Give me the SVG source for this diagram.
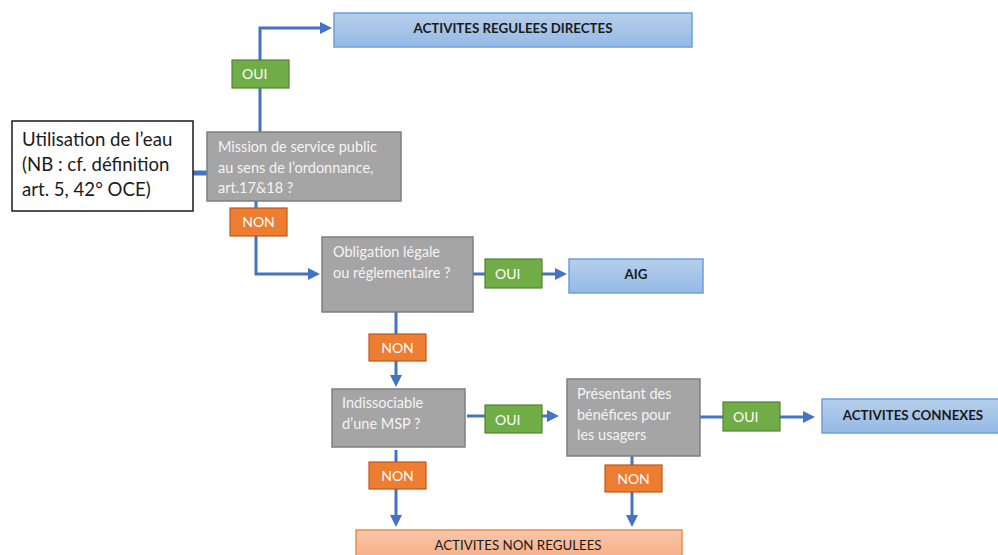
<svg xmlns="http://www.w3.org/2000/svg" width="998" height="555" viewBox="0 0 998 555">
<defs>
<linearGradient id="gBlue" x1="0" y1="0" x2="0" y2="1"><stop offset="0" stop-color="#b7cfeb"/><stop offset="1" stop-color="#94b9e5"/></linearGradient>
<linearGradient id="gSalmon" x1="0" y1="0" x2="0" y2="1"><stop offset="0" stop-color="#f9c7aa"/><stop offset="1" stop-color="#f5ad84"/></linearGradient>
<marker id="ah" markerUnits="userSpaceOnUse" markerWidth="12" markerHeight="12" refX="4" refY="6" orient="auto"><path d="M0,0 L12,6 L0,12 z" fill="#4472c4"/></marker>
</defs>
<style>
.t{font-family:Lato,"Liberation Sans",sans-serif}
.blue{fill:url(#gBlue);stroke:#6e9fd9;stroke-width:1.5}
.salmon{fill:url(#gSalmon);stroke:#ee8a4c;stroke-width:1.5}
.gray{fill:#a5a5a5;stroke:#7f7f7f;stroke-width:1.5}
.green{fill:#70ad47;stroke:#548235;stroke-width:1.2}
.orange{fill:#ed7d31;stroke:#c0561a;stroke-width:1.2}
.lbl{font-size:14px;fill:#ffffff}
.gt{font-size:14.5px;fill:#f4f4f4}
.bt{font-size:13.3px;font-weight:bold;fill:#1a1a1a}
.c{fill:none;stroke:#4472c4;stroke-width:3}
</style>
<rect width="998" height="555" fill="#ffffff"/>
<g id="connectors">
<path class="c" d="M260,132 V28 H324" marker-end="url(#ah)"/>
<path d="M193,173 H207" fill="none" stroke="#4472c4" stroke-width="5"/>
<path class="c" d="M256,201 V274 H312" marker-end="url(#ah)"/>
<path class="c" d="M473,274 H485"/>
<path class="c" d="M542,274 H559" marker-end="url(#ah)"/>
<path class="c" d="M396,312 V379" marker-end="url(#ah)"/>
<path class="c" d="M467,416 H485"/>
<path class="c" d="M542,416 H551" marker-end="url(#ah)"/>
<path class="c" d="M396,450 V519" marker-end="url(#ah)"/>
<path class="c" d="M632,456 V519" marker-end="url(#ah)"/>
<path class="c" d="M700,417 H723"/>
<path class="c" d="M780,417 H807" marker-end="url(#ah)"/>
</g>
<g id="n-directes"><rect class="blue" x="334" y="13" width="358" height="34"/><text class="t bt" x="513" y="33" text-anchor="middle">ACTIVITES REGULEES DIRECTES</text></g>
<g id="l-oui1"><rect class="green" x="232" y="60" width="57" height="28"/><text class="t lbl" x="242" y="79">OUI</text></g>
<g id="n-utilisation"><rect x="12" y="121" width="181" height="90" fill="#ffffff" stroke="#1a1a1a" stroke-width="1.5"/>
<text class="t" font-size="18.6" fill="#1a1a1a"><tspan x="22" y="146">Utilisation de l’eau</tspan><tspan x="22" y="171">(NB : cf. définition</tspan><tspan x="22" y="196">art. 5, 42° OCE)</tspan></text></g>
<g id="n-mission"><rect class="gray" x="207" y="132" width="194" height="69"/>
<text class="t gt"><tspan x="218" y="152">Mission de service public</tspan><tspan x="218" y="173">au sens de l’ordonnance,</tspan><tspan x="218" y="193">art.17&amp;18 ?</tspan></text></g>
<g id="l-non1"><rect class="orange" x="230" y="208" width="57" height="28"/><text class="t lbl" x="258.5" y="227" text-anchor="middle">NON</text></g>
<g id="n-obligation"><rect class="gray" x="322" y="237" width="151" height="75"/>
<text class="t gt"><tspan x="333" y="257">Obligation légale</tspan><tspan x="333" y="278">ou réglementaire ?</tspan></text></g>
<g id="l-oui2"><rect class="green" x="485" y="259" width="57" height="29"/><text class="t lbl" x="495" y="279">OUI</text></g>
<g id="n-aig"><rect class="blue" x="569" y="259" width="134" height="34"/><text class="t bt" x="636" y="279" text-anchor="middle">AIG</text></g>
<g id="l-non2"><rect class="orange" x="369" y="334" width="57" height="27"/><text class="t lbl" x="397.5" y="353" text-anchor="middle">NON</text></g>
<g id="n-indissociable"><rect class="gray" x="332" y="389" width="133" height="58"/>
<text class="t gt"><tspan x="342" y="408">Indissociable</tspan><tspan x="342" y="429">d’une MSP ?</tspan></text></g>
<g id="l-oui3"><rect class="green" x="485" y="405" width="57" height="28"/><text class="t lbl" x="495" y="425">OUI</text></g>
<g id="n-presentant"><rect class="gray" x="567" y="379" width="133" height="77"/>
<text class="t gt"><tspan x="577" y="399">Présentant des</tspan><tspan x="577" y="420">bénéfices pour</tspan><tspan x="577" y="440">les usagers</tspan></text></g>
<g id="l-oui4"><rect class="green" x="723" y="402" width="57" height="29"/><text class="t lbl" x="733" y="422">OUI</text></g>
<g id="n-connexes"><rect class="blue" x="822" y="399" width="180" height="34"/><text class="t bt" x="913" y="420" text-anchor="middle">ACTIVITES CONNEXES</text></g>
<g id="l-non3"><rect class="orange" x="369" y="462" width="57" height="27"/><text class="t lbl" x="397.5" y="481" text-anchor="middle">NON</text></g>
<g id="l-non4"><rect class="orange" x="605" y="465" width="57" height="27"/><text class="t lbl" x="633.5" y="484" text-anchor="middle">NON</text></g>
<g id="n-nonregulees"><rect class="salmon" x="356" y="530" width="326" height="30"/><text class="t" font-size="13.3" fill="#1a1a1a" x="518" y="550" text-anchor="middle">ACTIVITES NON REGULEES</text></g>
</svg>
